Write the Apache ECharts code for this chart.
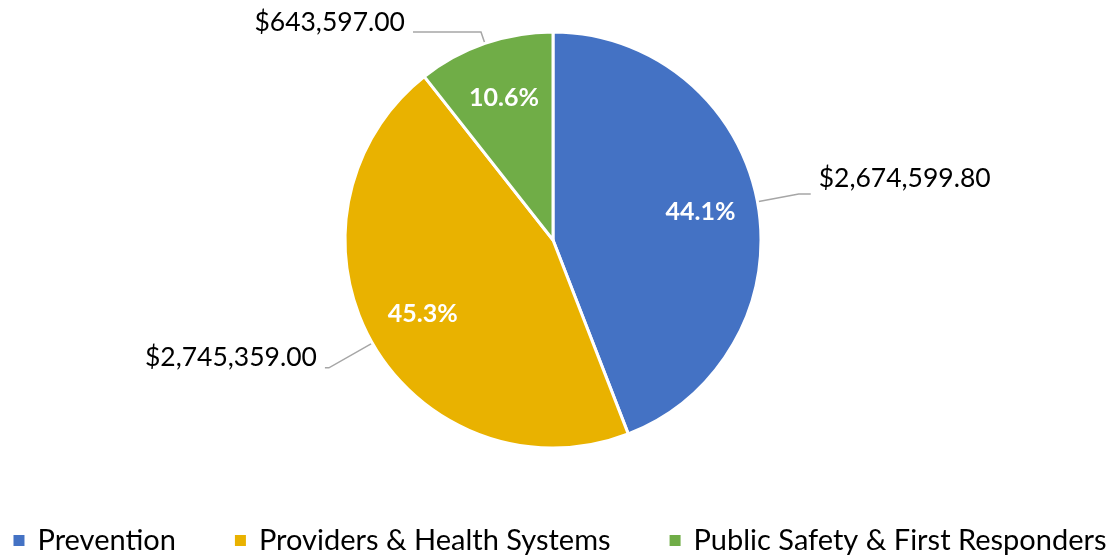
<!DOCTYPE html>
<html>
<head>
<meta charset="utf-8">
<script src="https://cdn.jsdelivr.net/npm/echarts@6/dist/echarts.min.js"></script>
<style>
  html, body { margin: 0; padding: 0; background: #fff; }
  #box1 { width: 1118px; height: 558px; }
</style>
</head>
<body>
<div id="box1"></div>
<script>
// 数据
var categories = ["Prevention", "Providers & Health Systems", "Public Safety & First Responders"]
var amounts = [2674599.80, 2745359.00, 643597.00]
var colors = ["#4472C4", "#E9B200", "#70AD47"]
// 引导线长度 [第一段, 第二段]
var leaderLengths = [[42, 12], [50, 4], [12, 68]]
// 金额文字相对引导线末端上移量
var labelLift = [16, 10, 10]

var pieData = categories.map(function (name, i) {
    return {
        name: name,
        value: amounts[i],
        labelLine: { length: leaderLengths[i][0], length2: leaderLengths[i][1] }
    }
})

function money(v) {
    return "$" + v.toLocaleString("en-US", { minimumFractionDigits: 2, maximumFractionDigits: 2 })
}

var richStyles = { a: { fontSize: 26.5, lineHeight: 28, color: "#000", fontFamily: "Lato", padding: [0, 3] } }
labelLift.forEach(function (lift, i) {
    richStyles["b" + i] = { fontSize: 10, lineHeight: lift * 2 }
})

var MyEcharts1 = echarts.init(document.getElementById("box1"))

var option1 = {
    color: colors,
    textStyle: { fontFamily: "Lato" },
    legend: {
        show: true,
        data: categories,
        left: "center",
        bottom: -2,
        itemWidth: 13,
        itemHeight: 13,
        itemGap: 57,
        icon: "rect",
        textStyle: { fontSize: 29, color: "#000", fontFamily: "Lato", padding: [0, 0, 0, 7] }
    },
    series: [
        // 饼图 + 外部金额标签
        {
            name: "amount",
            type: "pie",
            center: [553, 240],
            radius: 208,
            startAngle: 90,
            clockwise: true,
            silent: true,
            avoidLabelOverlap: false,
            itemStyle: { borderColor: "#fff", borderWidth: 3 },
            label: {
                show: true,
                position: "outside",
                formatter: function (p) { return "{a|" + money(p.value) + "}\n{b" + p.dataIndex + "|}" },
                color: "#000",
                rich: richStyles
            },
            labelLine: {
                show: true,
                lineStyle: { color: "#A6A6A6", width: 1.5 }
            },
            data: pieData
        },
        // 百分比标签
        {
            name: "percent",
            type: "pie",
            center: [553, 240],
            radius: [86, 208],
            startAngle: 90,
            clockwise: true,
            silent: true,
            itemStyle: { color: "transparent" },
            label: {
                show: true,
                position: "inside",
                formatter: function (p) { return p.percent.toFixed(1) + "%" },
                fontSize: 25,
                fontWeight: "bold",
                color: "#fff"
            },
            labelLine: { show: false },
            data: pieData.map(function (d) { return { name: d.name, value: d.value } })
        }
    ]
}

MyEcharts1.setOption(option1)
</script>
</body>
</html>
